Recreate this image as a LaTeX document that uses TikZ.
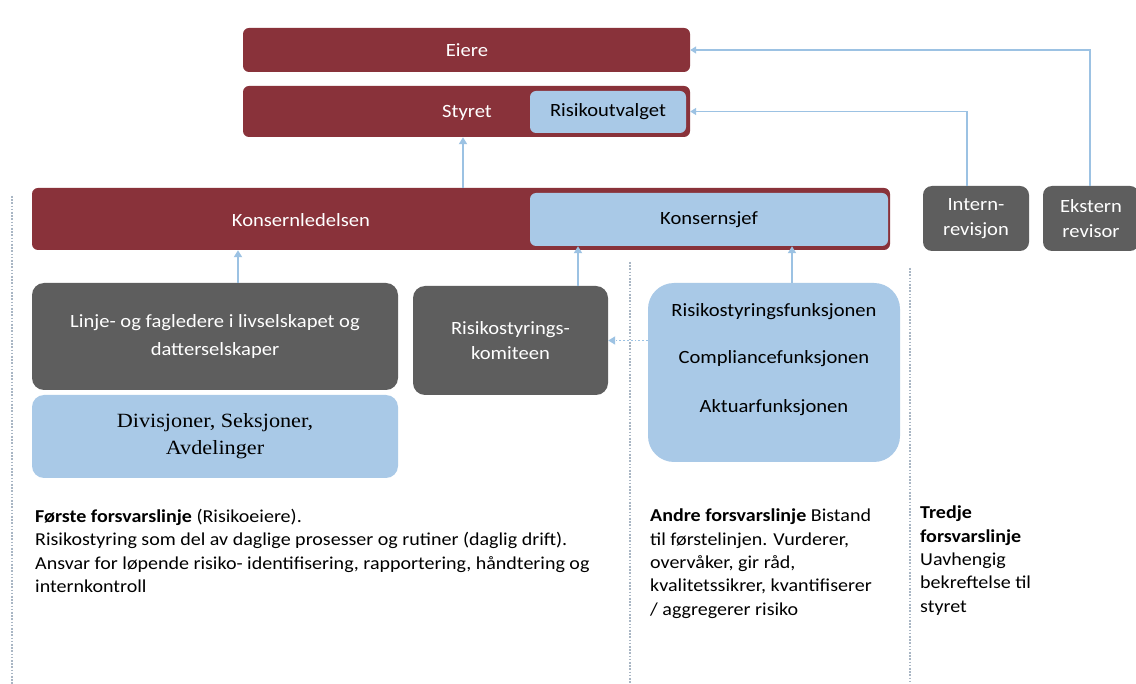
\documentclass[tikz,border=0pt]{standalone}
\usepackage{fontspec}
\setmainfont{Carlito}[FakeStretch=1.1]
\newfontfamily\serifdiv{Liberation Serif}[FakeStretch=1.1]
\usetikzlibrary{arrows.meta}
\definecolor{dred}{HTML}{89323A}
\definecolor{lblue}{HTML}{A9C9E7}
\definecolor{dgray}{HTML}{5E5E5E}
\definecolor{ablue}{HTML}{9CC2E3}
\definecolor{dotc}{HTML}{A9B6C4}
\tikzset{
  boxfont/.style={font=\fontsize{18.7}{25}\selectfont},
  redbox/.style={fill=dred, draw=none, rounded corners=6pt, inner sep=0pt},
  bluebox/.style={fill=lblue, draw=none, rounded corners=6pt, inner sep=0pt, align=center, text=black, boxfont},
  graybox/.style={fill=dgray, draw=none, rounded corners=12pt, inner sep=0pt, align=center, text=white, boxfont},
  wtext/.style={text=white, inner sep=0pt, boxfont},
  ftext/.style={inner sep=0pt, text=black, boxfont},
  arr/.style={draw=ablue, line width=2.2pt, -{Triangle[width=8pt,length=7pt]}},
  thinarr/.style={draw=ablue, line width=1.4pt, -{Triangle[width=7pt,length=6pt]}},
  dotarr/.style={draw=ablue, line width=1.8pt, dotted, -{Triangle[width=8pt,length=7pt]}},
  sepline/.style={draw=dotc, line width=1.6pt, dash pattern=on 1.6pt off 1.6pt},
  body/.style={anchor=north west, align=left, inner sep=0pt, text=black, font=\fontsize{18.2}{23.3}\selectfont},
}
\begin{document}
\begin{tikzpicture}[x=1pt,y=-1pt]
\useasboundingbox (0,0) rectangle (1136,684);
\fill[white] (0,0) rectangle (1136,684);
% top
\node[redbox, minimum width=447, minimum height=44] (eiere) at (466.5,50) {};
\node[wtext] (eieret) at (467,50) {Eiere};
\node[redbox, minimum width=447, minimum height=51] (styret) at (466.5,111.5) {};
\node[wtext] (styrett) at (467,113) {Styret};
\node[bluebox, minimum width=156, minimum height=42] (rutv) at (608,112) {Risikoutvalget};
% konsernledelsen
\node[redbox, minimum width=858, minimum height=62] (kl) at (461,219) {};
\node[wtext] (klt) at (301,220) {Konsernledelsen};
\node[bluebox, minimum width=358, minimum height=53] (ksj) at (709,219.5) {Konsernsjef};
% revisjon
\node[graybox, rounded corners=9pt, minimum width=106, minimum height=65] (ir) at (976,218.5) {Intern-\\revisjon};
\node[graybox, rounded corners=9pt, minimum width=96, minimum height=65] (er) at (1091,218.5) {Ekstern\\revisor};
% first line
\node[graybox, minimum width=366, minimum height=107, font=\fontsize{18.7}{27.5}\selectfont] (linje) at (215,336.5) {Linje- og fagledere i livselskapet og\\datterselskaper};
\node[bluebox, rounded corners=12pt, minimum width=366, minimum height=83, font=\serifdiv\fontsize{20.2}{27}\selectfont] (div) at (215,436.5) {Divisjoner, Seksjoner,\\Avdelinger};
\node[graybox, minimum width=195, minimum height=109] (rsk) at (510.5,340.5) {Risikostyrings-\\komiteen};
% second line
\node[bluebox, rounded corners=26pt, minimum width=252, minimum height=179] (funk) at (774,372.5) {};
\node[ftext] (f1) at (774,312) {Risikostyringsfunksjonen};
\node[ftext] (f2) at (774,359) {Compliancefunksjonen};
\node[ftext] (f3) at (774,408) {Aktuarfunksjonen};
% separators
\coordinate (s1a) at (12,196); \coordinate (s1b) at (12,684);
\coordinate (s2a) at (630,262); \coordinate (s2b) at (630,684);
\coordinate (s3a) at (910,268); \coordinate (s3b) at (910,684);
\draw[sepline] (s1a) -- (s1b);
\draw[sepline] (s2a) -- (s2b);
\draw[sepline] (s3a) -- (s3b);
% arrows
\draw[arr] (kl.north -| styrett) ++(-4,0) coordinate (a0) -- (a0 |- styret.south);
\draw[arr] (linje.north) ++(23,0) coordinate (a1) -- (a1 |- kl.south);
\draw[arr] (rsk.north) ++(67.5,0) coordinate (a2) -- (a2 |- ksj.south);
\draw[arr] (funk.north) ++(18,0) coordinate (a3) -- (a3 |- ksj.south);
\draw[thinarr] (ir.north) ++(-9,0) coordinate (a4) |- (styret.east);
\draw[thinarr] (er.north) ++(-1,0) coordinate (a5) |- (eiere.east);
\draw[dotarr] (funk.west |- rsk.east) -- (rsk.east);
% texts
\node[body] (t1) at (35,509) {\textbf{Første forsvarslinje} (Risikoeiere).\\Risikostyring som del av daglige prosesser og rutiner (daglig drift).\\Ansvar for løpende risiko- identifisering, rapportering, håndtering og\\internkontroll};
\node[body] (t2) at (650,509) {\textbf{Andre forsvarslinje} Bistand\\til førstelinjen. Vurderer,\\overvåker, gir råd,\\kvalitetssikrer, kvantifiserer\\/ aggregerer risiko};
\node[body] (t3) at (920,506) {\textbf{Tredje}\\\textbf{forsvarslinje}\\Uavhengig\\bekreftelse til\\styret};
\end{tikzpicture}
\end{document}
